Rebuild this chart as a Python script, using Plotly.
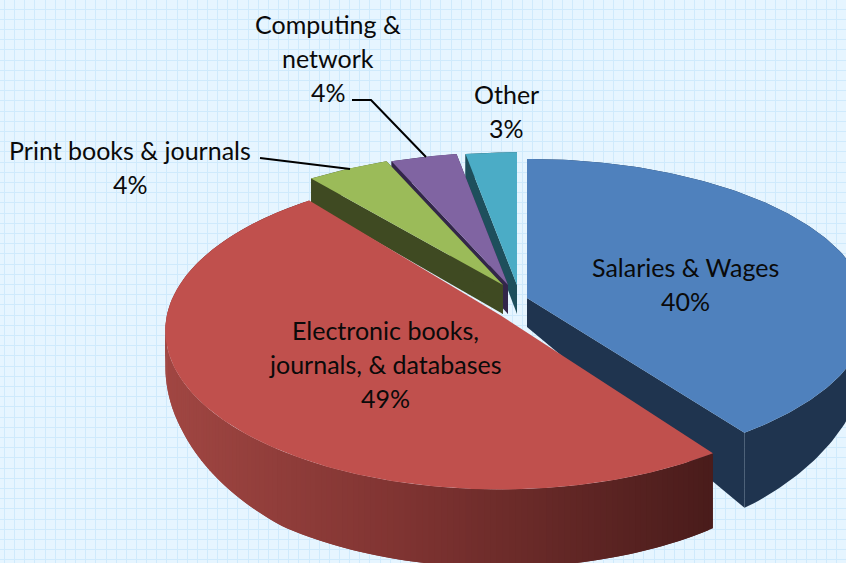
import numpy as np
import plotly.graph_objects as go

# --- data ---
categories = ["Salaries & Wages", "Electronic books,|journals, & databases",
              "Print books & journals", "Computing &|network", "Other"]
values = [40.0, 49.4, 4.4, 3.5, 2.7]

# --- styling / projection settings ---
top_colors = ["#4F81BD", "#C0504D", "#9BBB59", "#8064A2", "#4BACC6"]
side_colors = ["#1F344F", "#7F3433", "#3F4A22", "#33264A", "#1E4F5C"]
apex_x = [527, 500, 503, 508, 517]
apex_y = [298, 315, 285, 285, 285]
radius_x = [340, 333, 335, 335, 335]
radius_y = [153, 157, 146, 146, 146]
label_x = [685, 385, 130, 328, 506]
label_y = [284, 364, 167, 58, 111]
line_gap = 34
persp = 0.1
FONT = "Lato"
FS = 25


def project(i, theta):
    u, v = np.sin(theta), np.cos(theta)
    s = 1 + persp * v
    return apex_x[i] + radius_x[i] * u / s, apex_y[i] - radius_y[i] * v / s


def depth(theta):
    return np.interp(np.cos(theta), [-1, -0.8, -0.4, 0, 1], [78, 75, 50, 30, 24])


fig = go.Figure()


def poly(x, y, color):
    fig.add_trace(go.Scatter(x=list(x), y=list(y), mode="lines", fill="toself",
                             fillcolor=color, line=dict(width=0, color=color),
                             hoverinfo="skip", showlegend=False))


def lerp_red(x):
    r = np.interp(x, [170, 400, 710], [160, 128, 74])
    g = np.interp(x, [170, 400, 710], [70, 52, 28])
    b = np.interp(x, [170, 400, 710], [66, 50, 27])
    return f"rgb({r:.0f},{g:.0f},{b:.0f})"


edges = np.cumsum([0] + values) / sum(values) * 2 * np.pi
order = [0, 4, 3, 2, 1]  # back to front

for i in order:
    a0, a1 = edges[i], edges[i + 1]
    th = np.linspace(a0, a1, max(12, int((a1 - a0) * 60)))
    x, y = project(i, th)
    d = depth(th)
    if i == 1:
        # shaded rim made of narrow strips
        for k in range(len(th) - 2):
            poly([x[k], x[k + 2], x[k + 2], x[k]],
                 [y[k], y[k + 2], y[k + 2] + d[k + 2], y[k] + d[k]],
                 lerp_red(x[k]))
    else:
        # rim
        poly(np.r_[x, x[::-1]], np.r_[y, (y + d)[::-1]], side_colors[i])
        # radial walls
        d0 = 29
        for xe, ye, de in ((x[0], y[0], d[0]), (x[-1], y[-1], d[-1])):
            poly([apex_x[i], xe, xe, apex_x[i]],
                 [apex_y[i], ye, ye + de, apex_y[i] + d0], side_colors[i])
    # top face
    poly(np.r_[apex_x[i], x], np.r_[apex_y[i], y], top_colors[i])

# leader lines
for lx, ly in (([260, 350], [158, 169]), ([352, 371, 426], [100, 100, 157])):
    fig.add_trace(go.Scatter(x=lx, y=ly, mode="lines", line=dict(color="black", width=2),
                             hoverinfo="skip", showlegend=False))

for i, c in enumerate(categories):
    lines = c.split("|") + [f"{round(values[i])}%"]
    for n, t in enumerate(lines):
        fig.add_annotation(x=label_x[i], y=label_y[i] + (n - (len(lines) - 1) / 2) * line_gap,
                           text=t, showarrow=False, xanchor="center", yanchor="middle",
                           font=dict(family=FONT, size=FS, color="#0a0a0a"))

grid = dict(showgrid=True, gridcolor="#CFEAFC", gridwidth=1, zeroline=False,
            showticklabels=False, ticks="", showline=False, fixedrange=True)
fig.update_layout(
    width=846, height=563, margin=dict(l=0, r=0, t=0, b=0),
    paper_bgcolor="#E6F5FF", plot_bgcolor="#E6F5FF", showlegend=False,
    xaxis=dict(range=[0, 846], tick0=4.5, dtick=10.15, **grid),
    yaxis=dict(range=[563, 0], tick0=9, dtick=10.2, **grid),
)
fig.write_html("out.html", config=dict(displayModeBar=False),
               post_script="document.body.style.margin='0';document.documentElement.style.overflow='hidden';")
